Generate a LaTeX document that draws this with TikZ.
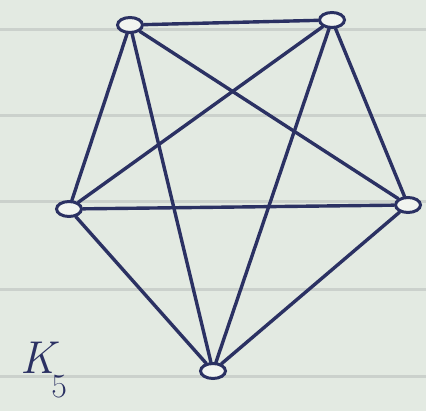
\documentclass[tikz,border=0pt]{standalone}
\usepackage{fontspec}
\usetikzlibrary{shapes.geometric}
\definecolor{paper}{HTML}{E3EAE2}
\definecolor{rule}{HTML}{CBD1CC}
\definecolor{ink}{HTML}{2B3163}
\begin{document}
\begin{tikzpicture}[x=1pt,y=-1pt,
  vert/.style={ellipse, draw=ink, line width=3pt, fill=paper!50!white, minimum width=25pt, minimum height=15pt, inner sep=0pt},
  edge/.style={draw=ink, line width=3.4pt, line cap=round},
  ruling/.style={draw=rule, line width=3pt}]
\fill[paper] (0,0) rectangle (426,411);
\useasboundingbox (0,0) rectangle (426,411);
\foreach \y in {30,116,202,290,377} \draw[ruling] (0,\y) -- (426,\y);
\node[vert] (A) at (130,25) {};
\node[vert] (B) at (332,20) {};
\node[vert] (C) at (69,209) {};
\node[vert] (D) at (408,205) {};
\node[vert] (E) at (213,371) {};
\draw[edge] (A) -- (B);
\draw[edge] (A) -- (C);
\draw[edge] (A) -- (D);
\draw[edge] (A) -- (E);
\draw[edge] (B) -- (C);
\draw[edge] (B) -- (D);
\draw[edge] (B) -- (E);
\draw[edge] (C) -- (D);
\draw[edge] (C) -- (E);
\draw[edge] (D) -- (E);
\node[text=ink, anchor=center, inner sep=0pt] (K) at (44,370) {\fontsize{46}{46}\selectfont\itshape K\kern-4pt\raisebox{-24pt}{\fontsize{34}{34}\selectfont\upshape 5}};
\end{tikzpicture}
\end{document}
